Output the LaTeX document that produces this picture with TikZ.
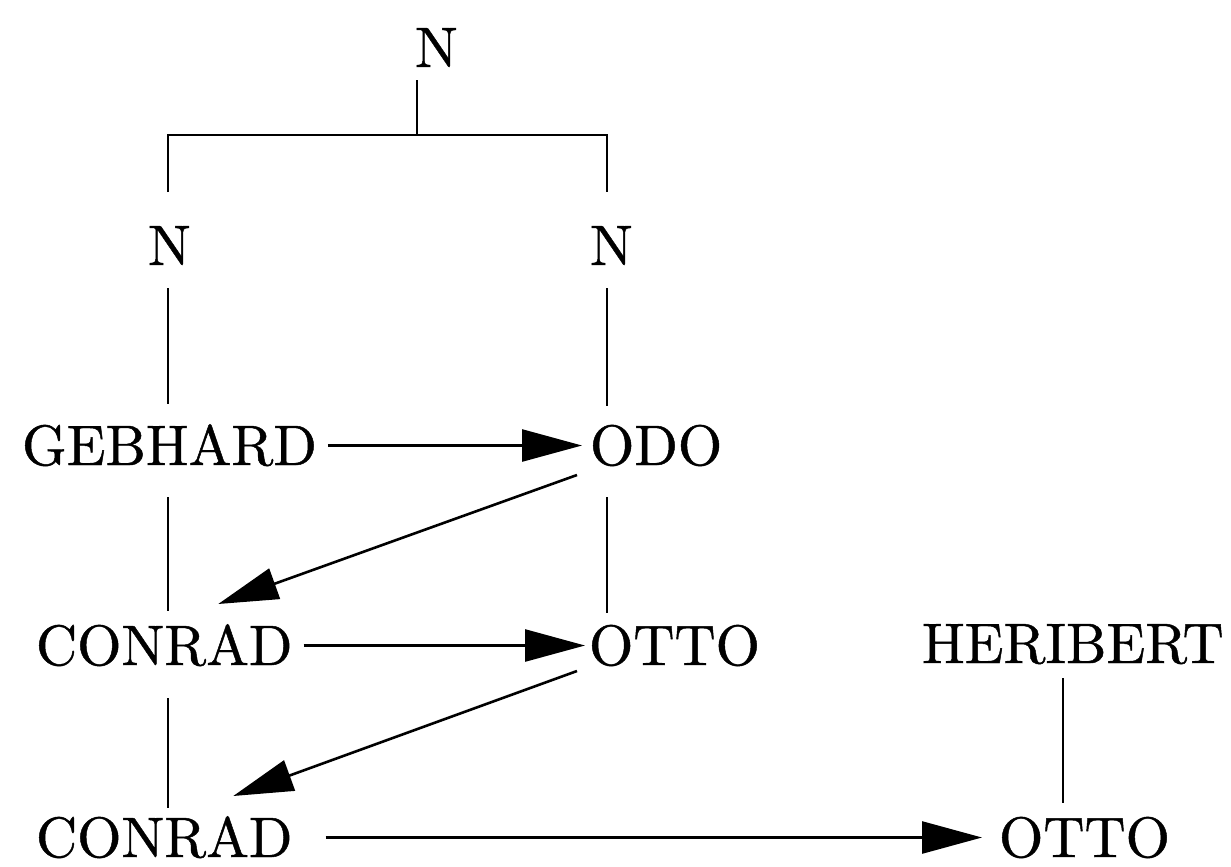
\documentclass[tikz,border=0pt]{standalone}
\usepackage{fontspec}
\setmainfont{lmroman10-regular.otf}[FakeBold=0.8]
\usetikzlibrary{arrows.meta,calc}

\begin{document}
\begin{tikzpicture}[x=0.5pt,y=-0.5pt,
  person/.style={inner sep=0pt, outer sep=0pt, anchor=base west,
    text height=19.5pt, text depth=0pt,
    font=\fontsize{28.5}{34}\selectfont},
  link/.style={line width=1.3pt},
  arr/.style={line width=1.3pt, -{Triangle[length=30pt,width=16pt]}}]
\useasboundingbox (0,0) rectangle (1231,867);

% column positions and the bar of the top fork
\coordinate (xT) at (417,0);
\coordinate (xL) at (168,0);
\coordinate (xR) at (607,0);
\coordinate (xH) at (1063,0);
\coordinate (barT) at (417,135);
\coordinate (barL) at (168,135);
\coordinate (barR) at (607,135);

% names
\node[person] (ntop)  at (415,67)  {N};
\node[person] (nl)    at (148,265) {N};
\node[person] (nr)    at (590,265) {N};
\node[person] (geb)   at (22,465)  {GEBHARD};
\node[person] (odo)   at (590,465) {ODO};
\node[person] (conM)  at (36,665)  {CONRAD};
\node[person] (ottoM) at (589,665) {OTTO};
\node[person] (heri)  at (922,663) {HERIBERT};
\node[person] (conB)  at (36,857)  {CONRAD};
\node[person] (ottoB) at (999,857) {OTTO};

% descent lines
\draw[link, shorten <=6.5pt] (ntop.base -| xT) -- (barT);
\draw[link, shorten <=17pt, shorten >=17pt]
  (nl.north -| xL) -- (barL) -- (barR) -- (nr.north -| xR);
\draw[link, shorten <=11.5pt, shorten >=11pt] (nl.base -| xL) -- (geb.north -| xL);
\draw[link, shorten <=11.5pt, shorten >=10pt] (nr.base -| xR) -- (odo.north -| xR);
\draw[link, shorten <=16pt, shorten >=7.5pt] (geb.base -| xL) -- (conM.north -| xL);
\draw[link, shorten <=16pt, shorten >=6.5pt] (odo.base -| xR) -- (ottoM.north -| xR);
\draw[link, shorten <=16.5pt, shorten >=5pt] (conM.base -| xL) -- (conB.north -| xL);
\draw[link, shorten <=7.5pt, shorten >=7.5pt] (heri.base -| xH) -- (ottoB.north -| xH);

% succession arrows
\draw[arr, shorten <=5.5pt, shorten >=4pt] (geb.east) -- (odo.west);
\draw[arr, shorten <=5.5pt, shorten >=2pt] (conM.east) -- (ottoM.west);
\draw[arr, shorten <=16.5pt, shorten >=8.5pt] (conB.east) -- (ottoB.west);
\draw[arr] ($(odo.south west)+(-13,10)$) -- ($(conM.north)+(54,-22)$);
\draw[arr] ($(ottoM.south west)+(-12,6)$) -- ($(conB.north)+(69,-22)$);
\end{tikzpicture}
\end{document}
